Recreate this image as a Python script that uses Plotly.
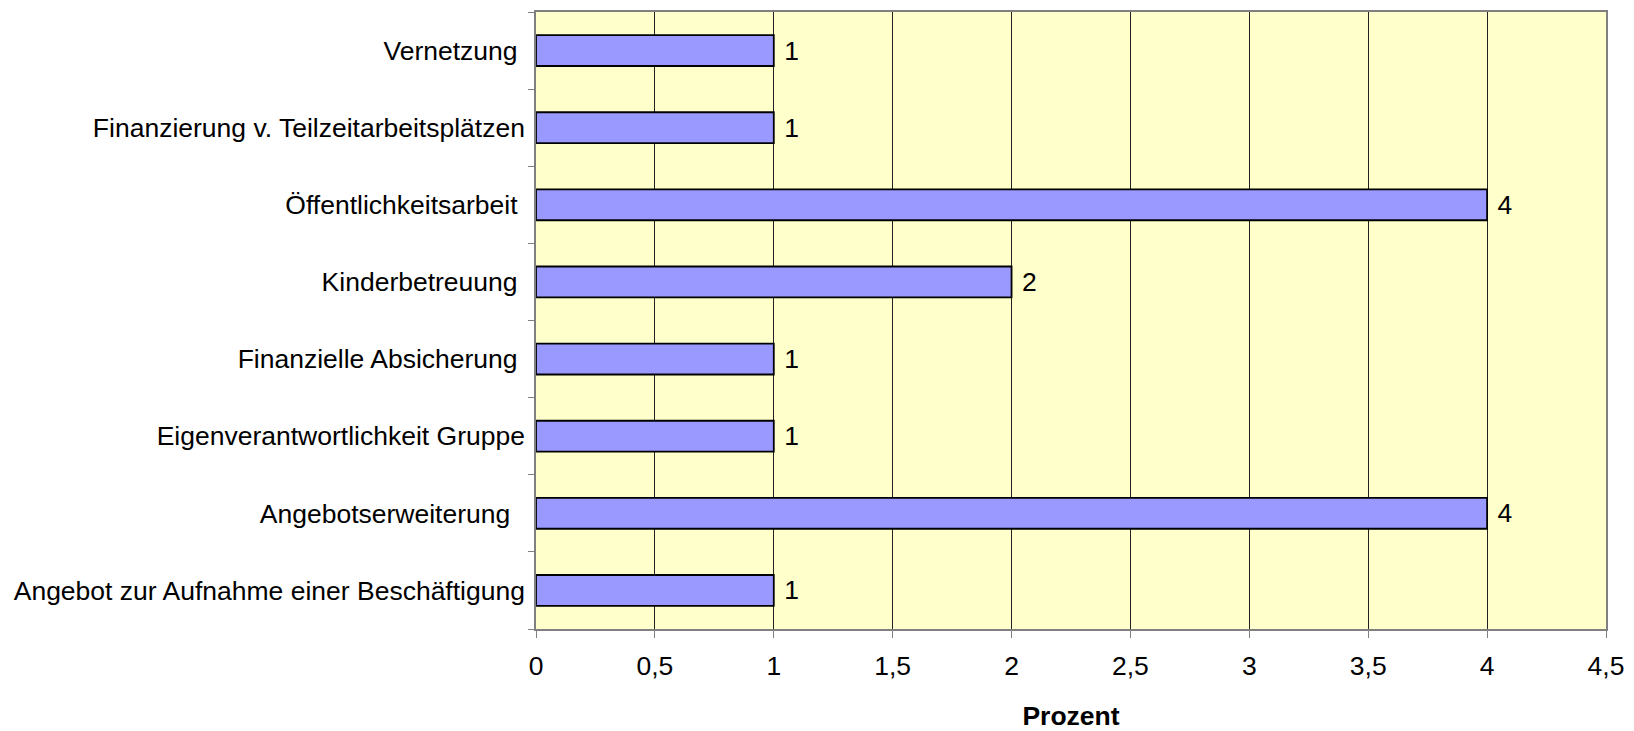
import plotly.graph_objects as go

categories = [
    "Angebot zur Aufnahme einer Beschäftigung",
    "Angebotserweiterung\u00a0\u00a0",
    "Eigenverantwortlichkeit Gruppe",
    "Finanzielle Absicherung\u00a0",
    "Kinderbetreuung\u00a0",
    "Öffentlichkeitsarbeit\u00a0",
    "Finanzierung v. Teilzeitarbeitsplätzen",
    "Vernetzung\u00a0",
]
values = [1, 4, 1, 1, 2, 4, 1, 1]
x_tickvals = [0, 0.5, 1, 1.5, 2, 2.5, 3, 3.5, 4, 4.5]

FONT = "Liberation Sans, Arial, sans-serif"
FS = 26.5

fig = go.Figure(
    go.Bar(
        x=values,
        y=categories,
        orientation="h",
        marker=dict(color="#9999FF", line=dict(color="#000000", width=1.8)),
        text=["\u00a0" + str(v) for v in values],
        textposition="outside",
        textfont=dict(family=FONT, size=FS, color="#000000"),
        cliponaxis=False,
    )
)

fig.update_layout(
    width=1634,
    height=731,
    margin=dict(l=536, r=28, t=12, b=102, autoexpand=False),
    paper_bgcolor="#FFFFFF",
    plot_bgcolor="#FFFFCC",
    bargap=0.6,
    separators=",.",
    showlegend=False,
    font=dict(family=FONT, size=FS, color="#000000"),
    xaxis=dict(
        range=[0, 4.5],
        tickvals=x_tickvals,
        showgrid=True,
        gridcolor="#222222",
        gridwidth=1,
        showline=True,
        linecolor="#808080",
        linewidth=1.5,
        mirror=True,
        ticks="outside",
        ticklen=7,
        tickcolor="#808080",
        ticklabelstandoff=5,
        zeroline=False,
        automargin=False,
        title=dict(text="<b>Prozent</b>", font=dict(family=FONT, size=FS), standoff=29),
    ),
    yaxis=dict(
        type="category",
        showgrid=False,
        showline=True,
        linecolor="#808080",
        linewidth=1.5,
        mirror=True,
        ticks="outside",
        tickson="boundaries",
        ticklen=6,
        tickcolor="#808080",
        ticklabelstandoff=4,
        automargin=False,
    ),
)

fig.write_html("out.html")
